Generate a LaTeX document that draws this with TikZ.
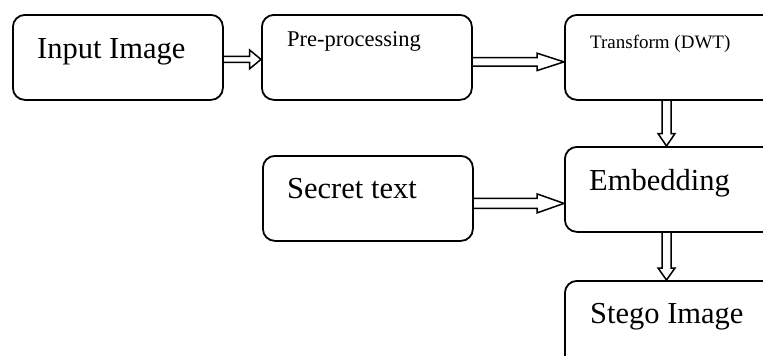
\documentclass[tikz,border=0pt]{standalone}
\usepackage{fontspec}
\setmainfont{Liberation Serif}
\usetikzlibrary{calc}
\tikzset{
  box/.style={draw, line width=1.8pt, rounded corners=12pt, inner sep=0pt,
    anchor=north west},
  lbl/.style={anchor=base west, inner sep=0pt},
  big/.style={font=\fontsize{30.5}{36}\selectfont},
  % hollow block arrow, horizontal: shaft half-gap, head half-width, head length
  harrow/.style n args={3}{line width=1.5pt, line join=miter,
    to path={let \p1=(\tikztostart), \p2=(\tikztotarget) in
      (\x1,\y1+#1) -- (\x2-#3,\y1+#1) -- (\x2-#3,\y1+#2) -- (\x2,\y2)
      -- (\x2-#3,\y1-#2) -- (\x2-#3,\y1-#1) -- (\x1,\y1-#1)}},
  % hollow block arrow pointing down
  varrow/.style n args={3}{line width=1.5pt, line join=miter,
    to path={let \p1=(\tikztostart), \p2=(\tikztotarget) in
      (\x1+#1,\y1) -- (\x1+#1,\y2+#3) -- (\x1+#2,\y2+#3) -- (\x2,\y2)
      -- (\x1-#2,\y2+#3) -- (\x1-#1,\y2+#3) -- (\x1-#1,\y1)}},
}
\begin{document}
\begin{tikzpicture}[x=1pt,y=-1pt]
\useasboundingbox (0,0) rectangle (763,356);
\clip (0,0) rectangle (763,356);

% process boxes
\node[box, minimum width=210pt, minimum height=85pt] (in)  at (12,14) {};
\node[box, minimum width=210pt, minimum height=85pt] (pre) at (261,14) {};
\node[box, minimum width=236pt, minimum height=85pt] (tr)  at (564,14) {};
\node[box, minimum width=210pt, minimum height=85pt] (sec) at (262,155) {};
\node[box, minimum width=236pt, minimum height=85pt] (emb) at (564,146) {};
\node[box, minimum width=236pt, minimum height=110pt] (st) at (564,280) {};

% labels
\node[lbl, big] (tin) at (37,58) {Input Image};
\node[lbl, font=\fontsize{22.5}{27}\selectfont] (tpre) at (287,46) {Pre-processing};
\node[lbl, font=\fontsize{19}{23}\selectfont] (ttr) at (590,48) {Transform (DWT)};
\node[lbl, big] (tsec) at (287,198) {Secret text};
\node[lbl, big] (temb) at (589,190) {Embedding};
\node[lbl, big] (tst) at (590,323) {Stego Image};

% connectors
\draw[harrow={3pt}{9.5pt}{11.5pt}] ([yshift=-2pt]in.east) to ([yshift=-2pt]pre.west);
\draw[harrow={4.2pt}{8.7pt}{27pt}] ([yshift=-4.5pt]pre.east) to ([yshift=-4.5pt]tr.west);
\draw[harrow={5pt}{9.5pt}{27pt}] ([yshift=-5pt]sec.east) to ([yshift=-5pt]sec.east -| emb.west);
\draw[varrow={4.5pt}{8.5pt}{12.5pt}] ([xshift=102.5pt]tr.south west) to ([xshift=102.5pt]emb.north west);
\draw[varrow={4.5pt}{8.5pt}{12pt}] ([xshift=102.5pt]emb.south west) to ([xshift=102.5pt]st.north west);
\end{tikzpicture}
\end{document}
